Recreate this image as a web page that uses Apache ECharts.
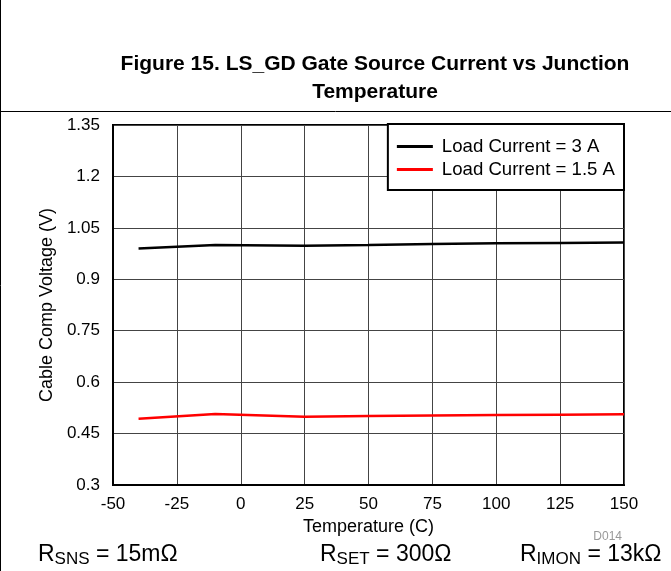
<!DOCTYPE html>
<html>
<head>
<meta charset="utf-8">
<script src="https://cdn.jsdelivr.net/npm/echarts@6/dist/echarts.min.js"></script>
<style>html,body{margin:0;padding:0;background:#fff}#c{width:671px;height:571px}</style>
</head>
<body>
<div id="c"></div>
<script>
const temperatures = [-40, -10, 25, 50, 75, 100, 125, 150];
const load3A = [0.990, 1.000, 0.998, 1.000, 1.003, 1.005, 1.006, 1.007];
const load1p5A = [0.493, 0.507, 0.499, 0.501, 0.503, 0.504, 0.505, 0.506];
const seriesNames = ['Load Current = 3 A', 'Load Current = 1.5 A'];
const xTicks = [-50, -25, 0, 25, 50, 75, 100, 125, 150];
const yTicks = [0.3, 0.45, 0.6, 0.75, 0.9, 1.05, 1.2, 1.35];

const font = 'Liberation Sans, Arial, sans-serif';
const chart = echarts.init(document.getElementById('c'));
const rich = {
  m: { fontFamily: font, fontSize: 23, fill: '#000', color: '#000' },
  s: { fontFamily: font, fontSize: 17, fill: '#000', color: '#000', padding: [9, 0, 0, 0] }
};
chart.setOption({
  animation: false,
  backgroundColor: '#fff',
  grid: { left: 113, right: 47, top: 125, bottom: 86, show: true, borderColor: '#000', borderWidth: 2, backgroundColor: 'transparent' },
  legend: {
    orient: 'vertical', right: 47, top: 124,
    backgroundColor: '#fff', borderColor: '#000', borderWidth: 2,
    padding: [13, 9, 11, 9], itemWidth: 36, itemHeight: 3, itemGap: 4,
    icon: 'rect',
    textStyle: { fontFamily: font, fontSize: 18.6, color: '#000', padding: [0, 0, 0, 4] },
    data: seriesNames
  },
  xAxis: {
    type: 'value', min: xTicks[0], max: xTicks[xTicks.length - 1], interval: 25,
    name: 'Temperature (C)', nameLocation: 'middle', nameGap: 28,
    nameTextStyle: { fontFamily: font, fontSize: 18, color: '#000' },
    axisLine: { show: true, onZero: false, lineStyle: { color: '#000', width: 2 } },
    axisTick: { show: false },
    axisLabel: { fontFamily: font, fontSize: 17, color: '#000', margin: 11 },
    splitLine: { show: true, lineStyle: { color: '#444', width: 1 } }
  },
  yAxis: {
    type: 'value', min: yTicks[0], max: yTicks[yTicks.length - 1], interval: 0.15,
    name: 'Cable Comp Voltage (V)', nameLocation: 'middle', nameGap: 57,
    nameTextStyle: { fontFamily: font, fontSize: 18, color: '#000' },
    axisLine: { show: true, onZero: false, lineStyle: { color: '#000', width: 2 } },
    axisTick: { show: false },
    axisLabel: { fontFamily: font, fontSize: 17, color: '#000', margin: 13,
      formatter: v => String(parseFloat(v.toFixed(2))) },
    splitLine: { show: true, lineStyle: { color: '#444', width: 1 } }
  },
  series: [
    { name: seriesNames[0], type: 'line', data: temperatures.map((t, i) => [t, load3A[i]]),
      showSymbol: false, symbol: 'none', lineStyle: { color: '#000', width: 2.5 }, itemStyle: { color: '#000' } },
    { name: seriesNames[1], type: 'line', data: temperatures.map((t, i) => [t, load1p5A[i]]),
      showSymbol: false, symbol: 'none', lineStyle: { color: '#ff0000', width: 2.5 }, itemStyle: { color: '#ff0000' } }
  ],
  graphic: [
    { type: 'line', shape: { x1: 0.5, y1: 0, x2: 0.5, y2: 571 }, style: { stroke: '#000', lineWidth: 1 } },
    { type: 'line', shape: { x1: 0, y1: 111.5, x2: 671, y2: 111.5 }, style: { stroke: '#000', lineWidth: 1 } },
    { type: 'text', x: 375, y: 50, style: { text: 'Figure 15. LS_GD Gate Source Current vs Junction\nTemperature',
      fontFamily: font, fontSize: 21, fontWeight: 'bold', fill: '#000', textAlign: 'center', lineHeight: 28 } },
    { type: 'text', x: 622, y: 531, style: { text: 'D014', fontFamily: font, fontSize: 12, fill: '#999', textAlign: 'right' } },
    { type: 'text', x: 38, y: 542, style: { rich: rich, text: '{m|R}{s|SNS}{m| = 15mΩ}' } },
    { type: 'text', x: 320, y: 542, style: { rich: rich, text: '{m|R}{s|SET}{m| = 300Ω}' } },
    { type: 'text', x: 520, y: 542, style: { rich: rich, text: '{m|R}{s|IMON}{m| = 13kΩ}' } }
  ]
});
</script>
</body>
</html>
